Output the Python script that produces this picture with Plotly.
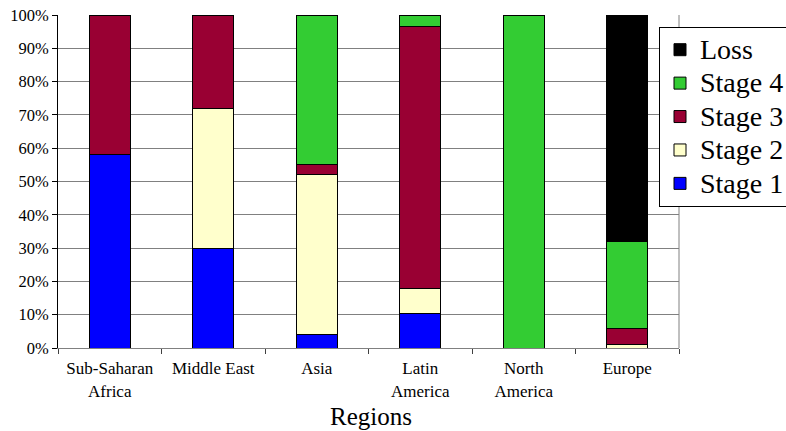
import plotly.graph_objects as go

# Share of each region at each stage (percent of total)
regions = ["Sub-Saharan<br>Africa", "Middle East", "Asia", "Latin<br>America", "North<br>America", "Europe"]
stage1 = [58, 30, 4, 10.5, 0, 0]
stage2 = [0, 42, 48, 7.5, 0, 1]
stage3 = [42, 28, 3, 78.5, 0, 5]
stage4 = [0, 0, 45, 3.5, 100, 26]
loss = [0, 0, 0, 0, 0, 68]

series = [
    ("Stage 1", stage1, "#0000FF"),
    ("Stage 2", stage2, "#FFFFCC"),
    ("Stage 3", stage3, "#990033"),
    ("Stage 4", stage4, "#33CC33"),
    ("Loss", loss, "#000000"),
]

FONT = "Liberation Serif"

fig = go.Figure()
for name, vals, color in series:
    fig.add_trace(go.Bar(
        # larger glyphs inside a compact legend row
        name=f'<span style="font-size:28px">{name}</span>',
        x=regions,
        y=[v / 100 for v in vals],
        marker=dict(color=color, line=dict(color="#000000", width=1)),
    ))

fig.update_layout(
    width=786,
    height=431,
    barmode="stack",
    bargap=0.6,
    margin=dict(l=58, r=107, t=15, b=83, autoexpand=False),
    paper_bgcolor="white",
    plot_bgcolor="white",
    font=dict(family=FONT, color="black"),
    legend=dict(
        traceorder="reversed",
        x=0.9678, xanchor="left",
        y=0.964, yanchor="top",
        bgcolor="white",
        bordercolor="black",
        borderwidth=1,
        font=dict(family=FONT, size=23.4, color="black"),
        itemwidth=30,
        tracegroupgap=0,
    ),
    xaxis=dict(
        range=[-0.5, 5.5],
        showgrid=False,
        showline=True,
        linecolor="#808080",
        linewidth=1,
        ticks="outside",
        tickson="boundaries",
        ticklen=5,
        tickcolor="#404040",
        ticklabelstandoff=5,
        tickfont=dict(family=FONT, size=17, color="black"),
    ),
    yaxis=dict(
        range=[0, 1],
        dtick=0.1,
        tickformat=".0%",
        showgrid=True,
        gridcolor="#808080",
        gridwidth=1,
        zeroline=False,
        showline=True,
        linecolor="#000000",
        linewidth=1,
        ticks="outside",
        ticklen=5,
        tickcolor="#000000",
        tickfont=dict(family=FONT, size=16.5, color="black"),
    ),
    shapes=[
        dict(type="line", xref="paper", yref="paper", x0=1, x1=1, y0=0, y1=1,
             line=dict(color="#808080", width=1)),
    ],
    annotations=[
        dict(text="Regions", xref="paper", yref="paper", x=0.504, y=-0.206,
             xanchor="center", yanchor="middle", showarrow=False,
             font=dict(family=FONT, size=25, color="black")),
    ],
)

fig.write_html("out.html")
